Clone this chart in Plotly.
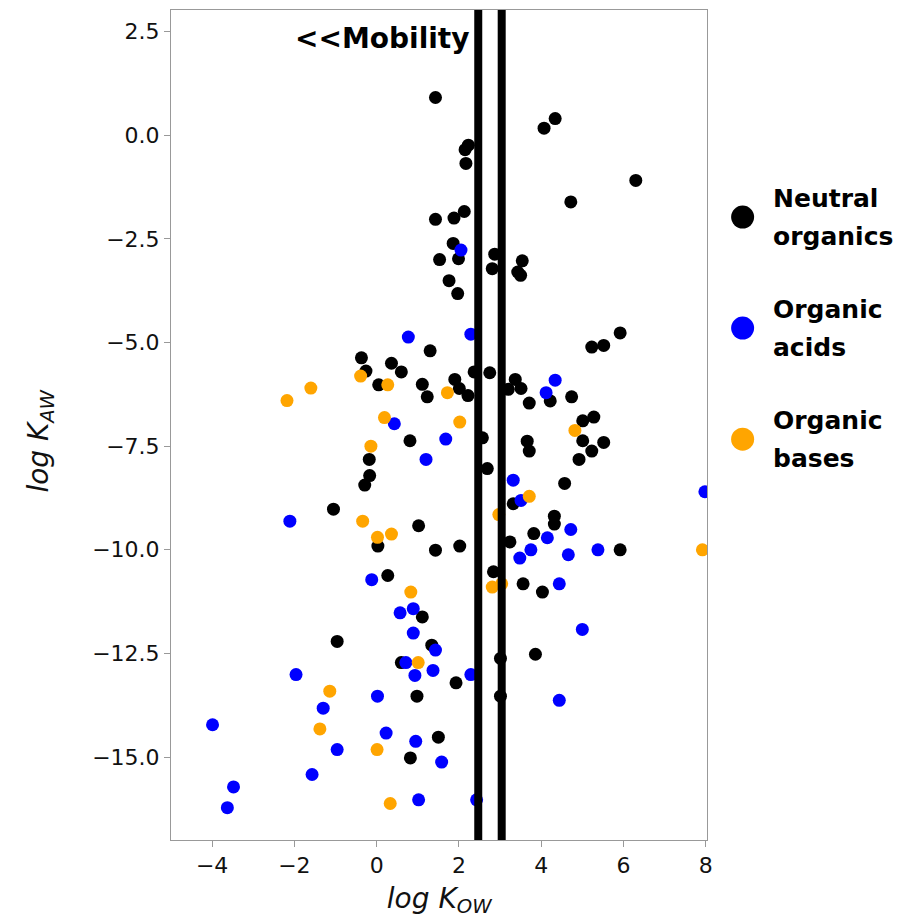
import plotly.graph_objects as go

# ---- data (log Kow, log Kaw) ----
neutral_x = [1.43, 1.43, 1.53, 4.34, 4.07, 2.23, 2.15, 2.17, 6.30, 4.72, 2.13, 1.88, 1.86, 1.99,
             2.87, 2.81, 3.54, 3.43, 3.50, 1.76, 1.97, 1.30, -0.37, 0.36, 0.60, -0.26, 0.05, 1.11,
             1.23, 0.81, -0.18, -0.17, -0.29, -1.05, 1.02, 0.03, 1.43, 0.27, 5.92, 5.23, 5.52,
             2.37, 2.75, 1.90, 2.01, 2.22, 3.37, 3.20, 3.51, 4.22, 3.71, 4.74, 2.57, 5.01, 5.28,
             5.01, 5.52, 5.23, 4.92, 3.66, 3.71, 2.69, 4.57, 3.32, 4.32, 4.32, 3.82, 3.24, 2.02,
             5.92, 2.84, 3.56, 4.03, 1.11, -0.96, 1.34, 0.60, 0.98, 1.50, 0.82, 3.01, 3.86, 1.93,
             3.01]
neutral_y = [0.91, -2.03, -3.00, 0.40, 0.17, -0.24, -0.35, -0.68, -1.09, -1.61, -1.84, -2.00,
             -2.61, -2.98, -2.87, -3.22, -3.03, -3.30, -3.38, -3.51, -3.82, -5.20, -5.37, -5.50,
             -5.71, -5.69, -6.02, -6.01, -6.31, -7.37, -7.82, -8.21, -8.44, -9.02, -9.42, -9.91,
             -10.01, -10.62, -4.77, -5.11, -5.07, -5.71, -5.73, -5.89, -6.11, -6.28, -5.89, -6.13,
             -6.11, -6.41, -6.46, -6.31, -7.30, -6.89, -6.80, -7.37, -7.41, -7.62, -7.82, -7.38,
             -7.62, -8.04, -8.40, -8.89, -9.19, -9.38, -9.61, -9.81, -9.91, -10.00, -10.53,
             -10.82, -11.02, -11.62, -12.21, -12.30, -12.72, -13.53, -14.52, -15.02, -12.62,
             -12.52, -13.21, -13.53]

acids_x = [2.05, 0.77, 0.43, 1.68, 1.20, -2.11, 2.29, 4.34, 4.12, 3.32, 7.98, 3.51, 4.72, 4.15,
           3.75, 3.48, 4.66, 5.38, 4.44, 5.00, 1.43, 2.29, 4.44, 1.58, 2.43, -0.12, 0.57, 0.89,
           0.89, 0.71, 1.37, 0.93, -1.96, 0.02, -1.30, -3.99, 0.23, 0.95, -0.96, -1.57, -3.48,
           -3.63, 1.02]
acids_y = [-2.77, -4.87, -6.96, -7.33, -7.82, -9.31, -4.80, -5.91, -6.21, -8.32, -8.60, -8.81,
           -9.51, -9.71, -10.00, -10.20, -10.12, -10.00, -10.82, -11.92, -12.42, -13.01, -13.63,
           -15.12, -16.03, -10.72, -11.52, -11.42, -12.01, -12.72, -12.91, -13.03, -13.01,
           -13.53, -13.82, -14.22, -14.42, -14.62, -14.82, -15.42, -15.72, -16.22, -16.03]

bases_x = [-0.39, 0.27, -1.60, -2.18, 0.19, -0.14, -0.34, 0.02, 0.36, 1.72, 2.02, 4.82, 3.71,
           2.97, 7.92, 2.81, 3.04, 0.83, 1.01, -1.14, -1.38, 0.01, 0.33]
bases_y = [-5.81, -6.02, -6.10, -6.40, -6.81, -7.50, -9.31, -9.70, -9.62, -6.21, -6.92, -7.12,
           -8.71, -9.15, -10.00, -10.90, -10.82, -11.02, -12.72, -13.41, -14.32, -14.82, -16.12]

mobility_lines = [2.47, 3.04]
x_ticks = [-4, -2, 0, 2, 4, 6, 8]
y_ticks = [2.5, 0.0, -2.5, -5.0, -7.5, -10.0, -12.5, -15.0]

legend_keys = ["Organic bases", "Organic acids", "Neutral organics"]
legend_lines = [["Organic", "bases"], ["Organic", "acids"], ["Neutral", "organics"]]
legend_colors = ["#ffa500", "#0000ff", "#000000"]

FONT = "DejaVu Sans"
MS = 13

fig = go.Figure()
for xs, ys, col, name in [(neutral_x, neutral_y, "#000000", "Neutral organics"),
                          (acids_x, acids_y, "#0000ff", "Organic acids"),
                          (bases_x, bases_y, "#ffa500", "Organic bases")]:
    fig.add_trace(go.Scatter(x=xs, y=ys, mode="markers", name=name, showlegend=False,
                             marker=dict(color=col, size=MS, line=dict(width=0)),
                             xaxis="x", yaxis="y"))

# legend markers drawn on a hidden helper axis
fig.add_trace(go.Scatter(x=[0] * len(legend_keys), y=legend_keys, mode="markers",
                         showlegend=False, hoverinfo="skip",
                         marker=dict(color=legend_colors, size=23, line=dict(width=0)),
                         xaxis="x2", yaxis="y2"))

for xv in mobility_lines:
    fig.add_shape(type="line", xref="x", yref="paper", x0=xv, x1=xv, y0=0, y1=1,
                  line=dict(color="black", width=8), layer="above")

annotations = [dict(text="<b>&lt;&lt;Mobility</b>", x=2.31, y=2.34, xref="x", yref="y",
                    xanchor="right", yanchor="middle", showarrow=False,
                    font=dict(family=FONT, size=28, color="black"))]
for key, lines in zip(legend_keys, legend_lines):
    for line, dy in zip(lines, [19, -19]):
        annotations.append(dict(text="<b>" + line + "</b>", x=0, y=key, xref="x2", yref="y2",
                                xanchor="left", yanchor="middle", xshift=28, yshift=dy,
                                showarrow=False, align="left",
                                font=dict(family=FONT, size=25, color="black")))

# y-axis title as a rotated annotation so it can sit where the reference has it
annotations.append(dict(text="<i>log K<sub>AW</sub></i>", xref="paper", yref="paper",
                        x=0, y=0.48, xanchor="center", yanchor="middle", xshift=-130,
                        textangle=-90, showarrow=False,
                        font=dict(family=FONT, size=28, color="#111")))

# page body has a default margin, so the figure is a little smaller than the window
W, H = 904, 911
ML, MT, MB = 163, 2, 79
main_right = 540 / (W - ML)

fig.update_layout(
    width=W, height=H,
    margin=dict(l=ML, r=0, t=MT, b=MB),
    plot_bgcolor="white", paper_bgcolor="white",
    font=dict(family=FONT, size=22, color="#222"),
    annotations=annotations,
    xaxis=dict(domain=[0, main_right], range=[-5, 8.04], tickvals=x_ticks,
               showline=True, mirror=True, linecolor="#999", linewidth=1,
               ticks="outside", ticklen=6, tickcolor="#999", showgrid=False, zeroline=False,
               tickfont=dict(family=FONT, size=22, color="#111"),
               title=dict(text="<i>log K<sub>OW</sub></i>", standoff=10,
                          font=dict(family=FONT, size=28, color="#111"))),
    yaxis=dict(range=[-17, 3.02], tickvals=y_ticks, tickformat=".1f",
               showline=True, mirror=True, linecolor="#999", linewidth=1,
               ticks="outside", ticklen=6, tickcolor="#999", showgrid=False, zeroline=False,
               tickfont=dict(family=FONT, size=22, color="#111")),
    xaxis2=dict(domain=[main_right, 1], range=[-0.212, 0.988], anchor="y2", visible=False,
                fixedrange=True),
    yaxis2=dict(domain=[0, 1], anchor="x2", type="category", categoryorder="array",
                categoryarray=legend_keys, range=[-3.61, 3.865], visible=False,
                fixedrange=True),
)

fig.write_html("out.html")
